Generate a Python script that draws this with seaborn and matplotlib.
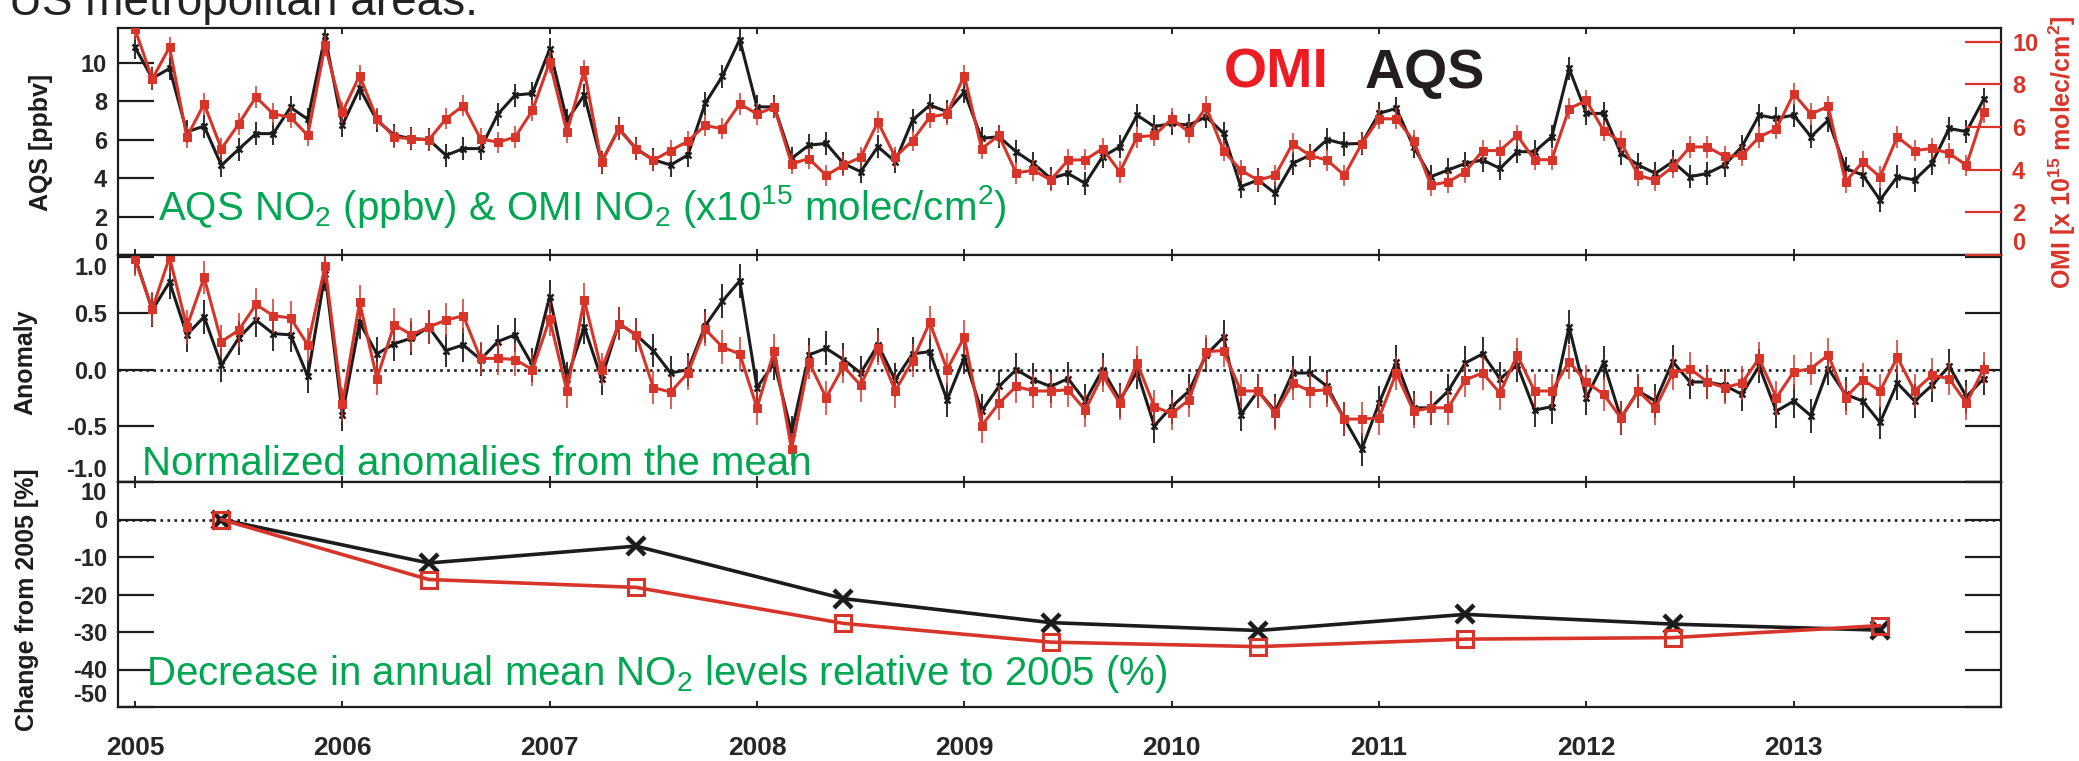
import numpy as np
import pandas as pd
import matplotlib
matplotlib.use("Agg")
import matplotlib.pyplot as plt
import seaborn as sns

# monthly values, Jan 2005 .. Dec 2013
aqs_ppbv = [
    10.8, 9.18, 9.7, 6.4, 6.7, 4.66, 5.5, 6.31, 6.31, 7.67, 7.06, 11.36,
    6.75, 8.66, 7.0, 6.23, 6.05, 6.0, 5.18, 5.53, 5.53, 7.32, 8.31, 8.4,
    10.7, 7.0, 8.31, 4.83, 6.57, 5.53, 4.95, 4.68, 5.2, 7.88, 9.3, 11.2,
    7.7, 7.7, 5.02, 5.71, 5.8, 4.76, 4.33, 5.63, 4.85, 7.01, 7.79, 7.45,
    8.48, 6.06, 6.15, 5.37, 4.76, 3.98, 4.24, 3.72, 5.11, 5.63, 7.27, 6.67,
    6.84, 6.75, 7.19, 6.32, 3.55, 3.9, 3.2, 4.76, 5.19, 6.0, 5.77, 5.8,
    7.36, 7.62, 5.63, 4.07, 4.42, 4.76, 4.94, 4.5, 5.37, 5.37, 6.15, 9.7,
    7.36, 7.36, 5.28, 4.68, 4.24, 4.85, 4.07, 4.24, 4.68, 5.63, 7.27, 7.1,
    7.27, 6.15, 7.01, 4.5, 4.16, 2.86, 4.07, 3.9, 4.76, 6.58, 6.41, 8.1,
]
omi_no2 = [
    10.6, 8.26, 9.75, 5.53, 7.09, 4.98, 6.15, 7.41, 6.62, 6.46, 5.61, 9.83,
    6.7, 8.42, 6.39, 5.53, 5.45, 5.4, 6.39, 7.01, 5.45, 5.29, 5.53, 6.78,
    9.05, 5.76, 8.66, 4.35, 5.91, 4.98, 4.44, 4.9, 5.34, 6.08, 5.92, 7.09,
    6.62, 6.93, 4.28, 4.52, 3.74, 4.21, 4.59, 6.24, 4.59, 5.37, 6.47, 6.62,
    8.42, 4.99, 5.61, 3.85, 3.98, 3.51, 4.45, 4.47, 4.99, 3.9, 5.54, 5.61,
    6.39, 5.77, 6.94, 4.9, 3.98, 3.51, 3.74, 5.22, 4.67, 4.45, 3.74, 5.22,
    6.39, 6.39, 5.37, 3.28, 3.43, 3.9, 4.9, 4.9, 5.61, 4.47, 4.47, 6.86,
    7.25, 5.84, 5.3, 3.74, 3.51, 4.13, 5.07, 5.07, 4.63, 4.67, 5.54, 5.92,
    7.56, 6.62, 6.97, 3.43, 4.37, 3.66, 5.54, 4.9, 5.0, 4.77, 4.21, 6.7,
]
aqs_anomaly = [
    1.0, 0.53, 0.78, 0.31, 0.47, 0.04, 0.28, 0.44, 0.32, 0.31, -0.06, 0.85,
    -0.4, 0.42, 0.14, 0.23, 0.28, 0.38, 0.17, 0.22, 0.09, 0.25, 0.31, 0.04,
    0.65, -0.08, 0.38, -0.08, 0.41, 0.31, 0.17, -0.03, 0.0, 0.39, 0.61, 0.79,
    -0.16, 0.06, -0.56, 0.13, 0.19, 0.09, -0.03, 0.22, -0.09, 0.14, 0.16, -0.27,
    0.11, -0.37, -0.15, 0.0, -0.09, -0.15, -0.08, -0.28, 0.0, -0.27, -0.02, -0.5,
    -0.33, -0.19, 0.13, 0.29, -0.4, -0.19, -0.37, -0.03, -0.03, -0.15, -0.44, -0.71,
    -0.3, 0.07, -0.34, -0.34, -0.19, 0.06, 0.14, -0.08, 0.04, -0.36, -0.33, 0.38,
    -0.25, 0.06, -0.43, -0.19, -0.28, 0.07, -0.11, -0.11, -0.14, -0.22, 0.03, -0.37,
    -0.28, -0.41, 0.01, -0.22, -0.28, -0.47, -0.12, -0.28, -0.14, 0.03, -0.24, -0.08,
]
omi_anomaly = [
    0.98, 0.54, 1.0, 0.38, 0.82, 0.25, 0.35, 0.58, 0.48, 0.46, 0.22, 0.92,
    -0.31, 0.6, -0.08, 0.4, 0.31, 0.38, 0.44, 0.48, 0.1, 0.1, 0.09, 0.0,
    0.45, -0.19, 0.62, 0.0, 0.41, 0.31, -0.16, -0.2, -0.03, 0.36, 0.2, 0.14,
    -0.34, 0.17, -0.71, 0.07, -0.25, 0.03, -0.14, 0.19, -0.19, 0.08, 0.42, 0.0,
    0.29, -0.5, -0.3, -0.15, -0.19, -0.19, -0.18, -0.36, -0.05, -0.3, 0.06, -0.33,
    -0.39, -0.27, 0.16, 0.17, -0.19, -0.19, -0.39, -0.12, -0.19, -0.18, -0.44, -0.44,
    -0.43, -0.03, -0.37, -0.34, -0.34, -0.09, -0.03, -0.21, 0.13, -0.19, -0.19, 0.07,
    -0.11, -0.22, -0.43, -0.19, -0.34, -0.03, 0.01, -0.11, -0.16, -0.12, 0.1, -0.25,
    -0.02, 0.01, 0.13, -0.25, -0.09, -0.19, 0.11, -0.19, -0.05, -0.08, -0.3, 0.01,
]
aqs_err = 0.6      # ppbv, typical bar half length
omi_err = 0.5      # 1e15 molec/cm2
anom_err = 0.15

# annual mean change relative to 2005 (%)
years = [2005, 2006, 2007, 2008, 2009, 2010, 2011, 2012, 2013]
aqs_change = [0.0, -11.6, -7.1, -21.1, -27.5, -29.6, -25.3, -27.9, -29.5]
omi_change = [0.0, -16.0, -18.1, -27.7, -32.7, -33.9, -31.9, -31.5, -28.3]

RED = "#d8352a"
BLACK = "#1c1c1c"
GREEN = "#00a651"

months = pd.DataFrame({
    "time": 2005 + np.arange(len(aqs_ppbv)) / 12.0,
    "aqs": aqs_ppbv,
    "omi": omi_no2,
    "aqs_anom": aqs_anomaly,
    "omi_anom": omi_anomaly,
})
annual = pd.DataFrame({
    "time": np.array(years) + 5 / 12.0,
    "aqs": aqs_change,
    "omi": omi_change,
})

sns.set_theme(style="ticks")
plt.rcParams["font.family"] = ["Liberation Sans", "DejaVu Sans"]
plt.rcParams["mathtext.fontset"] = "custom"
plt.rcParams["mathtext.rm"] = "Liberation Sans"
plt.rcParams["mathtext.default"] = "regular"

W, H = 2079, 761
fig = plt.figure(figsize=(W / 100, H / 100), dpi=100)
fig.patch.set_facecolor("white")


def box(top, bottom, left=118, right=2001):
    return [left / W, 1 - bottom / H, (right - left) / W, (bottom - top) / H]


ax1 = fig.add_axes(box(28, 255))
ax2 = fig.add_axes(box(255, 482))
ax3 = fig.add_axes(box(482, 707))

TICK_FS = 17
LABEL_FS = 18


def style_axes(ax, yticks, ylabels, show_x=False):
    ax.set_facecolor("white")
    ax.set_xlim(2004.918, 2014.0)
    ax.set_xticks(years)
    ax.set_yticks(yticks)
    ax.set_yticklabels(ylabels)
    ax.tick_params(axis="y", direction="in", length=26, width=1.6, left=True,
                   right=True, pad=8, labelsize=TICK_FS, color=BLACK)
    ax.tick_params(axis="x", direction="in", length=4, width=1.4, top=True,
                   bottom=True, labelsize=19, pad=21, labelbottom=show_x)
    for s in ax.spines.values():
        s.set_visible(True)
        s.set_linewidth(1.6)
        s.set_color(BLACK)
    for lab in ax.get_xticklabels() + ax.get_yticklabels():
        lab.set_fontweight("bold")
    ax.set_xlabel("")
    ax.grid(False)


def side_label(ax, text, x_px, y_frac, color=BLACK):
    ax.set_ylabel(text, fontsize=LABEL_FS, fontweight="bold", color=color)
    ax.yaxis.label.set(ha="center", va="center", rotation=90, rotation_mode="anchor")
    ax.yaxis.set_label_coords((x_px - 118) / 1883, y_frac)


# --- top: monthly NO2 ---
ax1.errorbar(months["time"], months["aqs"], yerr=aqs_err, fmt="none",
             ecolor=BLACK, elinewidth=1.3, capsize=0)
sns.lineplot(data=months, x="time", y="aqs", ax=ax1, color=BLACK, lw=2.2,
             marker="x", markersize=5, markeredgewidth=1.8, markeredgecolor=BLACK)
ax1.set_ylim(0, 11.8)
style_axes(ax1, [0, 2, 4, 6, 8, 10], ["0", "2", "4", "6", "8", "10"])

axr = ax1.twinx()
axr.errorbar(months["time"], months["omi"], yerr=omi_err, fmt="none",
             ecolor=RED, elinewidth=1.3, capsize=0, alpha=0.85)
sns.lineplot(data=months, x="time", y="omi", ax=axr, color=RED, lw=2.2,
             marker="s", markersize=5.5, markeredgecolor=RED)
axr.set_ylim(0, 10.65)
axr.set_yticks([0, 2, 4, 6, 8, 10])
axr.tick_params(axis="y", direction="in", length=26, width=1.6, colors=RED,
                labelsize=TICK_FS, pad=8)
for s in axr.spines.values():
    s.set_visible(False)
for lab in axr.get_yticklabels():
    lab.set_fontweight("bold")
axr.get_yticklabels()[0].set_va("bottom")
ax1.set_xlim(2004.918, 2014.0)

side_label(ax1, "AQS [ppbv]", 41, (255 - 142) / 227)
side_label(axr, "OMI [x 10$^{15}$ molec/cm$^{2}$]", 2062, (255 - 152) / 227, color=RED)
ax1.get_yticklabels()[0].set_va("bottom")

# --- middle: anomalies ---
ax2.axhline(0, color=BLACK, ls=":", lw=1.9)
ax2.errorbar(months["time"], months["aqs_anom"], yerr=anom_err, fmt="none",
             ecolor=BLACK, elinewidth=1.3, capsize=0)
sns.lineplot(data=months, x="time", y="aqs_anom", ax=ax2, color=BLACK, lw=2.2,
             marker="x", markersize=5, markeredgewidth=1.8, markeredgecolor=BLACK)
ax2.errorbar(months["time"], months["omi_anom"], yerr=anom_err, fmt="none",
             ecolor=RED, elinewidth=1.3, capsize=0, alpha=0.85)
sns.lineplot(data=months, x="time", y="omi_anom", ax=ax2, color=RED, lw=2.2,
             marker="s", markersize=5.5, markeredgecolor=RED)
ax2.set_ylim(-1.0, 1.02)
style_axes(ax2, [-1.0, -0.5, 0.0, 0.5, 1.0], ["-1.0", "-0.5", "0.0", "0.5", "1.0"])
ax2.get_yticklabels()[0].set_va("bottom")
ax2.get_yticklabels()[-1].set_va("top")
side_label(ax2, "Anomaly", 25, (482 - 362) / 227)

# --- bottom: annual change ---
ax3.axhline(0, color=BLACK, ls=":", lw=1.9)
sns.lineplot(data=annual, x="time", y="aqs", ax=ax3, color=BLACK, lw=2.6,
             marker="x", markersize=13, markeredgewidth=3.2, markeredgecolor=BLACK)
sns.lineplot(data=annual, x="time", y="omi", ax=ax3, color=RED, lw=2.6,
             marker="s", markersize=12, markerfacecolor="none",
             markeredgewidth=2.2, markeredgecolor=RED)
ax3.set_ylim(-50, 10)
style_axes(ax3, [-50, -40, -30, -20, -10, 0, 10],
           ["-50", "-40", "-30", "-20", "-10", "0", "10"], show_x=True)
ax3.get_yticklabels()[0].set_va("bottom")
ax3.get_yticklabels()[-1].set_va("top")
side_label(ax3, "Change from 2005 [%]", 27, (707 - 600) / 225)

# --- annotations ---
fig.text(158 / W, 1 - 220 / H,
         "AQS NO$_2$ (ppbv) & OMI NO$_2$ (x10$^{15}$ molec/cm$^2$)",
         fontsize=29, color=GREEN, va="baseline", ha="left")
fig.text(142 / W, 1 - 475 / H, "Normalized anomalies from the mean",
         fontsize=29, color=GREEN, va="baseline", ha="left")
fig.text(146 / W, 1 - 685 / H,
         "Decrease in annual mean NO$_2$ levels relative to 2005 (%)",
         fontsize=29, color=GREEN, va="baseline", ha="left")
fig.text(1224 / W, 1 - 88 / H, "OMI", fontsize=40, fontweight="bold",
         color="#ed1c24", va="baseline", ha="left")
fig.text(1365 / W, 1 - 88 / H, "AQS", fontsize=40, fontweight="bold",
         color="#231f20", va="baseline", ha="left")
# slide caption cut by the top edge, as in the source screenshot
fig.text(9 / W, 1 - 15 / H, "US metropolitan areas.", fontsize=33,
         color="#222222", va="baseline", ha="left")

fig.savefig("out.png", dpi=100, facecolor="white")
